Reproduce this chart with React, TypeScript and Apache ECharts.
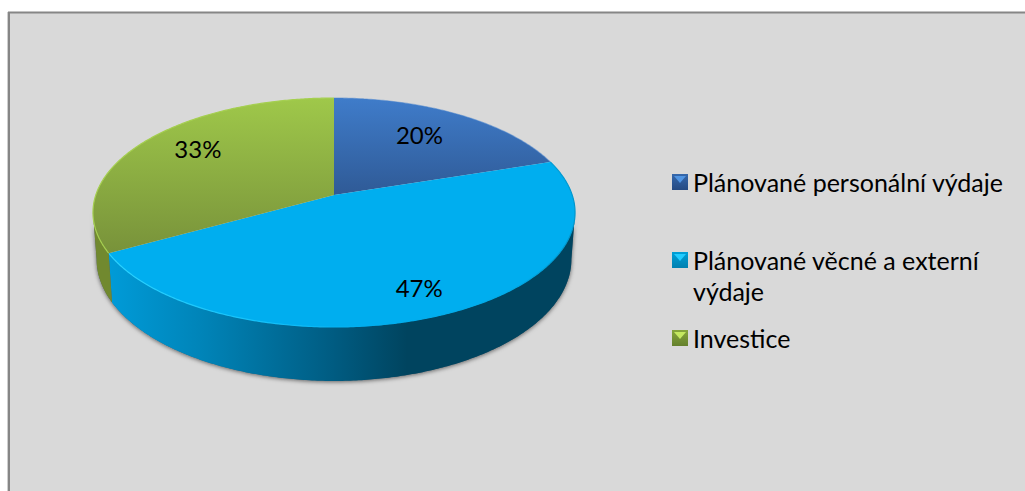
import React, { useEffect, useRef } from "react";
import * as echarts from "echarts";

const categories = ["Plánované personální výdaje", "Plánované věcné a externí výdaje", "Investice"];
const legendLabels = ["Plánované personální výdaje", "\nPlánované věcné a externí\nvýdaje", "Investice"];
const values = [20, 47, 33];
const labelRadius = [0.66, 0.8, 0.7];
const labelShiftY = [-5, 0, -9];

const FONT = "Lato";
const CX = 334, CY = 195, A = 238.2, B = 111.8, K = 0.153, DEPTH = 45.7, SHRINK = 0.985;
const FRONT_FROM = (Math.PI / 180) * 98.8;
const FRONT_TO = (Math.PI / 180) * 261.2;
const total = values.reduce((s, v) => s + v, 0);
const linear = (x0: number, y0: number, x1: number, y1: number, stops: [number, string][]) =>
  new echarts.graphic.LinearGradient(x0, y0, x1, y1, stops.map(([offset, color]) => ({ offset, color })));

const project = (t: number, f = 1): number[] => {
  const u = f * Math.sin(t), v = f * Math.cos(t), w = 1 + K * v;
  return [CX + (A * u) / w, CY - (B * v) / w];
};
const lower = (t: number): number[] => {
  const p = project(t), w = 1 + K * Math.cos(t);
  return [CX + (p[0] - CX) * SHRINK, p[1] + DEPTH / w];
};
const sample = (a: number, b: number, fn: (t: number) => number[]) => {
  const n = Math.max(2, Math.ceil(Math.abs(b - a) / 0.01));
  return Array.from({ length: n + 1 }, (_, i) => fn(a + ((b - a) * i) / n));
};
const startOf = (i: number) => (values.slice(0, i).reduce((s, v) => s + v, 0) / total) * Math.PI * 2;

const topFills = [
  linear(0, 0, 0, 1, [[0, "#3f7cca"], [1, "#2f5a96"]]),
  "#00aeef",
  linear(0, 0, 0, 1, [[0, "#9fc84a"], [1, "#78923a"]]),
];
const wallFills = [
  "#2f5a96",
  linear(0, 0, 1, 0, [[0, "#009bd8"], [0.2, "#0084b8"], [0.48, "#005c82"], [0.64, "#00445f"], [1, "#00445f"]]),
  "#71892f",
];
const rimStrokes = [
  "rgba(70,130,205,0.5)",
  linear(0, 0, 1, 0, [[0, "#2ad2ff"], [0.35, "#12c0fa"], [0.55, "#00aeef"], [0.85, "#00aae8"], [1, "#0096cc"]]),
  "#a5cf50",
];

const renderSlice = (i: number) => (_: any, api: any) => {
  const start = startOf(i);
  const end = start + (api.value(0) / total) * Math.PI * 2;
  const mid = (start + end) / 2;
  const children: any[] = [];
  if (i === 0) {
    children.push({
      type: "polygon",
      shape: {
        points: [...sample(FRONT_FROM, FRONT_TO, project), ...sample(FRONT_TO, FRONT_FROM, lower)],
      },
      style: { fill: "#55606a", shadowBlur: 4, shadowColor: "rgba(0,0,0,0.55)", shadowOffsetY: 1 },
    });
  }
  const wa = Math.max(start, FRONT_FROM), wb = Math.min(end, FRONT_TO);
  if (wb > wa) {
    children.push({
      type: "polygon",
      shape: { points: [...sample(wa, wb, project), ...sample(wb, wa, lower)] },
      style: { fill: wallFills[i] },
    });
  }
  children.push({
    type: "polygon",
    shape: { points: [[CX, CY], ...sample(start, end, project)] },
    style: { fill: topFills[i] },
  });
  children.push({
    type: "polyline",
    shape: { points: sample(start, end, project) },
    style: { stroke: rimStrokes[i], lineWidth: 1.2, fill: "none" },
  });
  const [lx, ly] = project(mid, labelRadius[i]);
  children.push({
    type: "text",
    style: {
      text: `${api.value(0)}%`,
      x: lx,
      y: ly + labelShiftY[i],
      fontFamily: FONT,
      fontSize: 24,
      fill: "#000000",
      align: "center",
      verticalAlign: "middle",
    },
  });
  return { type: "group", children };
};

const ICON_X = 672;
const iconTops = [174, 252, 330];
const iconLight = ["#4f94e2", "#22ccff", "#c4e860"];
const iconBase = [
  linear(0, 0, 0, 1, [[0, "#3568ac"], [1, "#254a82"]]),
  linear(0, 0, 0, 1, [[0, "#00a0d8"], [1, "#0080b0"]]),
  linear(0, 0, 0, 1, [[0, "#86a63c"], [1, "#64802c"]]),
];

export default function App() {
  const ref = useRef<HTMLDivElement>(null);
  useEffect(() => {
    document.body.style.margin = "0";
    const chart = echarts.init(ref.current!, undefined, { renderer: "svg" });
    chart.setOption({
      animation: false,
      backgroundColor: "#ffffff",
      legend: {
        orient: "vertical",
        left: ICON_X,
        top: 166.5,
        padding: 0,
        itemWidth: 16,
        itemHeight: 16,
        itemGap: 16,
        selectedMode: false,
        icon: "rect",
        data: categories.map((name, i) => ({ name, icon: "rect", itemStyle: { color: iconBase[i] } })),
        formatter: (name: string) => legendLabels[categories.indexOf(name)],
        textStyle: { fontFamily: FONT, fontSize: 25, lineHeight: 31, color: "#000000" },
      },
      graphic: [
        {
          type: "rect",
          z: -10,
          silent: true,
          shape: { x: 9, y: 12.5, width: 1030, height: 500 },
          style: { fill: "#d9d9d9", stroke: "#868686", lineWidth: 2 },
        },
        {
          type: "line",
          z: -9,
          silent: true,
          shape: { x1: 7.5, y1: 12, x2: 7.5, y2: 491 },
          style: { stroke: "#cfcfcf", lineWidth: 1 },
        },
        ...iconTops.map((y, i) => ({
          type: "polygon",
          z: 20,
          silent: true,
          shape: { points: [[ICON_X + 2, y + 2], [ICON_X + 14, y + 2], [ICON_X + 8, y + 9]] },
          style: { fill: iconLight[i] },
        })),
      ],
      series: categories.map((name, i) => ({
        type: "custom",
        name,
        coordinateSystem: "none",
        silent: true,
        data: [values[i]],
        itemStyle: { color: "#00aeef" },
        renderItem: renderSlice(i),
      })),
    });
    return () => chart.dispose();
  }, []);
  return <div ref={ref} style={{ width: 1025, height: 491 }} />;
}
